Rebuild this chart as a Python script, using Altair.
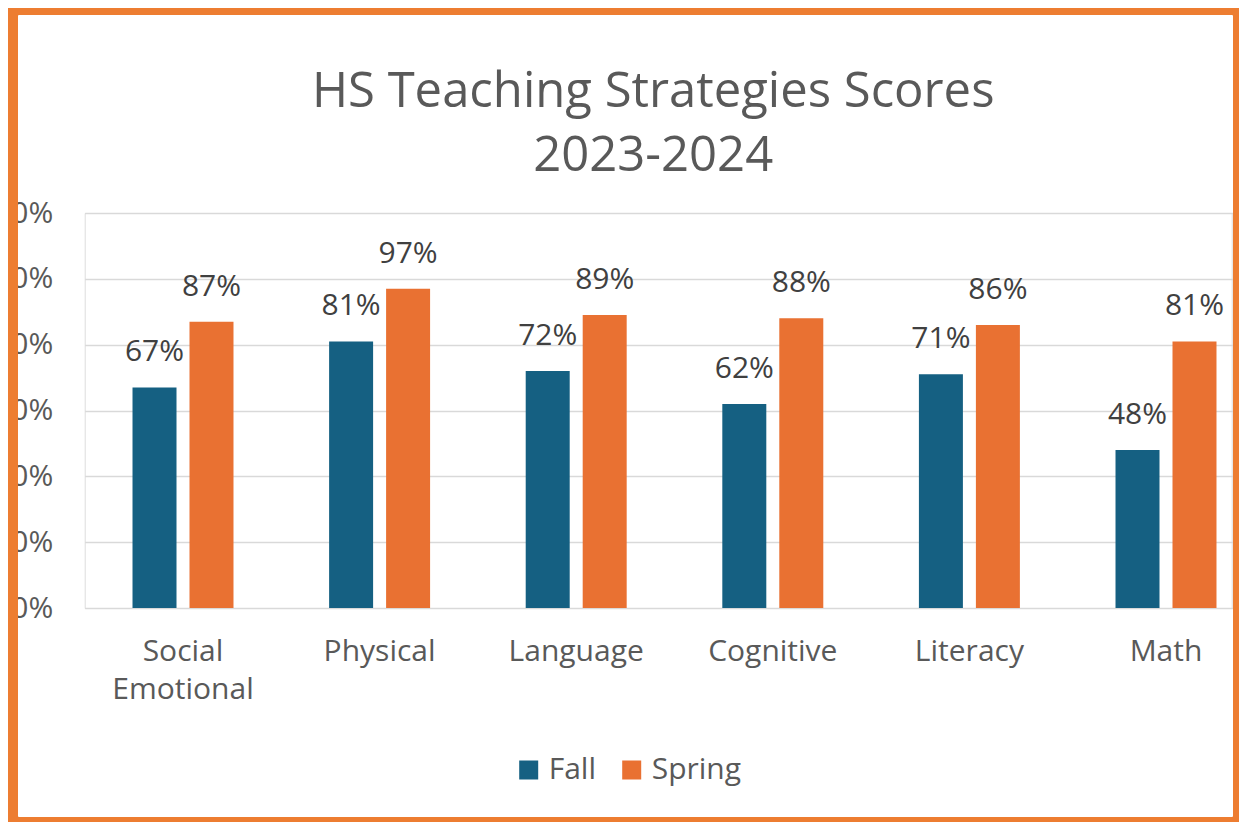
import altair as alt
import pandas as pd

categories = ["Social Emotional", "Physical", "Language", "Cognitive", "Literacy", "Math"]
fall = [67, 81, 72, 62, 71, 48]
spring = [87, 97, 89, 88, 86, 81]
seasons = ["Fall", "Spring"]
colors = ["#156082", "#E97132"]
title_lines = ["HS Teaching Strategies Scores", "2023-2024"]

rows = []
for c, f, s in zip(categories, fall, spring):
    rows.append({"category": c, "season": "Fall", "value": f / 100})
    rows.append({"category": c, "season": "Spring", "value": s / 100})
df = pd.DataFrame(rows)

FONT = "Open Sans"
PW, PH = 1147, 395

x_enc = alt.X(
    "category:N",
    sort=categories,
    title=None,
    scale=alt.Scale(range=[0, 1179.6], paddingInner=0, paddingOuter=0),
    axis=alt.Axis(
        labelAngle=0,
        ticks=False,
        domain=False,
        grid=False,
        labelFontSize=30,
        labelColor="#595959",
        labelFont=FONT,
        labelPadding=28,
        labelLineHeight=38,
        labelExpr="split(datum.label, ' ')",
    ),
)
xoff = alt.XOffset(
    "season:N",
    sort=seasons,
    scale=alt.Scale(paddingInner=0.228, paddingOuter=0.839),
)
y_enc = alt.Y(
    "value:Q",
    title=None,
    scale=alt.Scale(domain=[0, 1.2], nice=False),
    axis=alt.Axis(
        values=[0, 0.2, 0.4, 0.6, 0.8, 1.0, 1.2],
        format=".0%",
        ticks=False,
        domain=False,
        labelFontSize=30,
        labelColor="#595959",
        labelFont=FONT,
        labelPadding=32,
        gridColor="#D9D9D9",
        gridWidth=1.5,
    ),
)

base = alt.Chart(df)

bars = base.mark_bar().encode(
    x=x_enc,
    xOffset=xoff,
    y=y_enc,
    color=alt.Color(
        "season:N",
        sort=seasons,
        scale=alt.Scale(domain=seasons, range=colors),
        legend=alt.Legend(
            title=None,
            orient="none",
            direction="horizontal",
            legendX=429,
            legendY=542,
            symbolType="square",
            symbolSize=361,
            symbolStrokeWidth=0,
            labelFontSize=30,
            labelFont=FONT,
            labelColor="#595959",
            columnPadding=20,
            labelOffset=5,
            padding=0,
        ),
    ),
)

labels = base.mark_text(
    baseline="alphabetic",
    dy=-26,
    fontSize=30,
    font=FONT,
    color="#404040",
).encode(
    x=alt.X("category:N", sort=categories),
    xOffset=alt.XOffset("season:N", sort=seasons),
    y=alt.Y("value:Q"),
    text=alt.Text("value:Q", format=".0%"),
)

border = alt.Chart(pd.DataFrame({"k": [0]})).mark_rect(
    fillOpacity=0,
    stroke="#ED7D31",
    strokeWidth=14,
    cornerRadius=8,
).encode(
    x=alt.value(-73.7),
    x2=alt.value(1155.3),
    y=alt.value(-205),
    y2=alt.value(611),
)

chart = (
    alt.layer(bars, labels, border)
    .properties(
        width=PW,
        height=PH,
        padding={"left": 76.7, "top": 205, "right": 7.3, "bottom": 214},
        autosize=alt.AutoSizeParams(type="none"),
        title=alt.Title(
            text=title_lines,
            fontSize=49,
            font=FONT,
            fontWeight="normal",
            color="#595959",
            lineHeight=64,
            anchor="middle",
            frame="group",
            baseline="top",
            dx=-5,
            offset=-180,
        ),
    )
    .configure_axis(zindex=0)
    .configure_view(stroke=None)
    .configure(background="white")
)

chart.save("out.html", embed_options={"renderer": "svg", "actions": False})
